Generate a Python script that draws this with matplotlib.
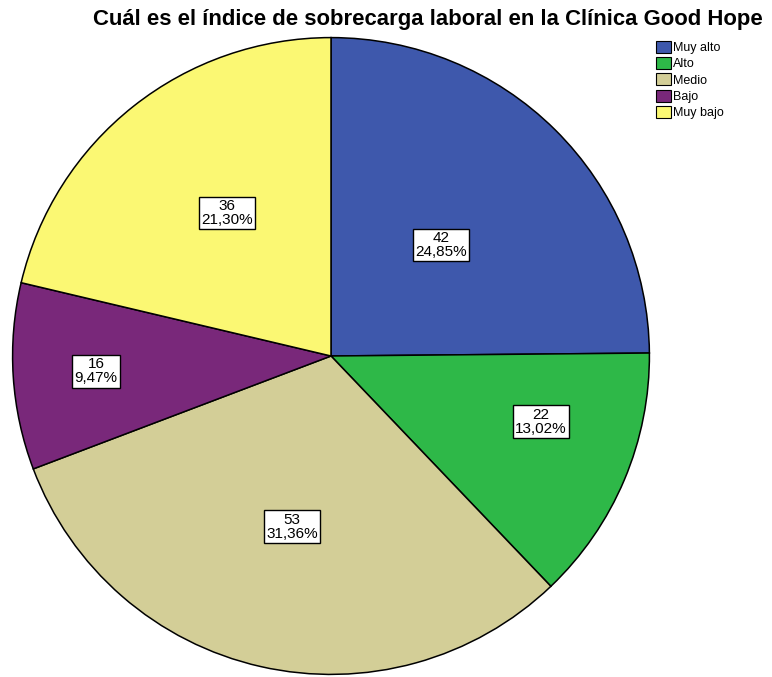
import matplotlib.pyplot as plt
import matplotlib.patches as mpatches
import numpy as np

categorias = ["Muy alto", "Alto", "Medio", "Bajo", "Muy bajo"]
frecuencias = [42, 22, 53, 16, 36]
porcentajes = ["24,85%", "13,02%", "31,36%", "9,47%", "21,30%"]
colores = ["#3E58AC", "#2EB848", "#D3CE97", "#79287A", "#FBF873"]
# posicion de cada etiqueta: fraccion del radio y desplazamiento angular (grados)
dist_etiqueta = [0.49, 0.69, 0.55, 0.74, 0.555]
giro_etiqueta = [0.0, 5.5, 0.0, 0.0, -2.4]

plt.rcParams['font.family'] = ['Liberation Sans', 'DejaVu Sans']

fig = plt.figure(figsize=(7.72, 6.77), dpi=100)
ax = fig.add_axes([11 / 772, 1 / 677, 640 / 772, 640 / 677])

wedges, _ = ax.pie(frecuencias, colors=colores, startangle=90, counterclock=False,
                   radius=1.0, wedgeprops=dict(edgecolor="black", linewidth=1.1))
ax.set_xlim(-1.005, 1.005)
ax.set_ylim(-1.005, 1.005)
ax.set_aspect("equal")
ax.axis("off")

for w, f, p, d, g in zip(wedges, frecuencias, porcentajes, dist_etiqueta, giro_etiqueta):
    ang = np.deg2rad((w.theta1 + w.theta2) / 2 + g)
    ax.text(d * np.cos(ang), d * np.sin(ang), f"{f}\n{p}", ha="center", va="center",
            fontsize=11, linespacing=1.0,
            bbox=dict(boxstyle="square,pad=0.15", facecolor="white", edgecolor="black", linewidth=1.0))

fig.text(428 / 772, 1 - 20 / 677, "Cuál es el índice de sobrecarga laboral en la Clínica Good Hope",
         ha="center", va="center", fontsize=15.9, fontweight="bold")

handles = [mpatches.Patch(facecolor=c, edgecolor="black", linewidth=0.8) for c in colores]
fig.legend(handles, categorias, loc="upper left", bbox_to_anchor=(653 / 772, 1 - 38 / 677),
           frameon=False, fontsize=9, handlelength=1.2, handleheight=1.1,
           handletextpad=0.2, labelspacing=0.25, borderpad=0.2, borderaxespad=0)

fig.savefig("out.png", dpi=100)
